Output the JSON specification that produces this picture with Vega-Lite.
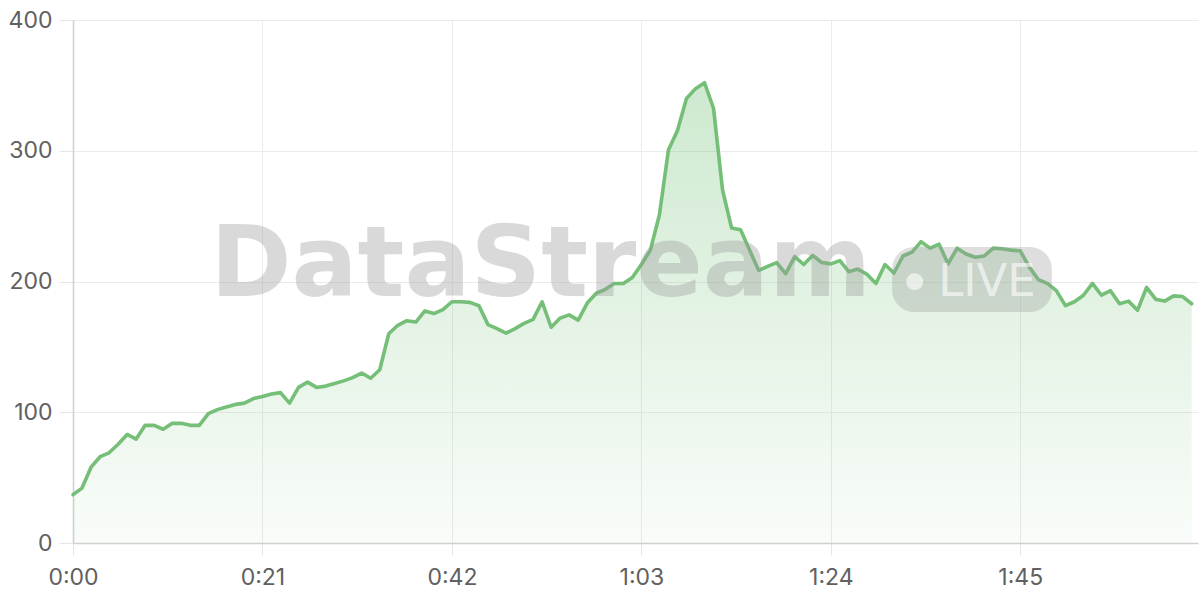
{
  "$schema": "https://vega.github.io/schema/vega-lite/v6.json",
  "width": 1125,
  "height": 523,
  "autosize": {"type": "none"},
  "padding": {"left": 73, "top": 20, "right": 2, "bottom": 57},
  "background": "#ffffff",
  "config": {
    "view": {"stroke": null},
    "axis": {
      "labelFont": "Inter",
      "labelFontSize": 23,
      "labelColor": "#606060",
      "labelFlush": false,
      "gridColor": "#ebebeb",
      "gridWidth": 1,
      "tickColor": "#e6e6e6",
      "tickWidth": 1,
      "domainColor": "#d0d0d0",
      "domainWidth": 1.5
    }
  },
  "datasets": {
    "series": [
      {"t": 0, "v": 37}, {"t": 1, "v": 42}, {"t": 2, "v": 58}, {"t": 3, "v": 66}, {"t": 4, "v": 69},
      {"t": 5, "v": 75.5}, {"t": 6, "v": 83}, {"t": 7, "v": 79.5}, {"t": 8, "v": 90}, {"t": 9, "v": 90},
      {"t": 10, "v": 87}, {"t": 11, "v": 91.5}, {"t": 12, "v": 91.5}, {"t": 13, "v": 90}, {"t": 14, "v": 90},
      {"t": 15, "v": 99}, {"t": 16, "v": 102}, {"t": 17, "v": 104}, {"t": 18, "v": 106}, {"t": 19, "v": 107},
      {"t": 20, "v": 110.5}, {"t": 21, "v": 112}, {"t": 22, "v": 114}, {"t": 23, "v": 115}, {"t": 24, "v": 107},
      {"t": 25, "v": 119}, {"t": 26, "v": 123}, {"t": 27, "v": 119}, {"t": 28, "v": 120}, {"t": 29, "v": 122},
      {"t": 30, "v": 124}, {"t": 31, "v": 126.5}, {"t": 32, "v": 130}, {"t": 33, "v": 126}, {"t": 34, "v": 132.5},
      {"t": 35, "v": 160}, {"t": 36, "v": 166.5}, {"t": 37, "v": 170}, {"t": 38, "v": 169}, {"t": 39, "v": 177.5},
      {"t": 40, "v": 175.5}, {"t": 41, "v": 178.5}, {"t": 42, "v": 184.5}, {"t": 43, "v": 184.5}, {"t": 44, "v": 184},
      {"t": 45, "v": 181.5}, {"t": 46, "v": 167}, {"t": 47, "v": 164}, {"t": 48, "v": 160.5}, {"t": 49, "v": 164},
      {"t": 50, "v": 168}, {"t": 51, "v": 171}, {"t": 52, "v": 184.5}, {"t": 53, "v": 165}, {"t": 54, "v": 172},
      {"t": 55, "v": 174.5}, {"t": 56, "v": 170.5}, {"t": 57, "v": 183.5}, {"t": 58, "v": 191}, {"t": 59, "v": 194},
      {"t": 60, "v": 198.5}, {"t": 61, "v": 198.5}, {"t": 62, "v": 203}, {"t": 63, "v": 213}, {"t": 64, "v": 224},
      {"t": 65, "v": 251}, {"t": 66, "v": 300.5}, {"t": 67, "v": 315.5}, {"t": 68, "v": 340}, {"t": 69, "v": 347.5},
      {"t": 70, "v": 352}, {"t": 71, "v": 332.5}, {"t": 72, "v": 270}, {"t": 73, "v": 241}, {"t": 74, "v": 239.5},
      {"t": 75, "v": 224}, {"t": 76, "v": 208.5}, {"t": 77, "v": 211.5}, {"t": 78, "v": 214.5}, {"t": 79, "v": 206},
      {"t": 80, "v": 219}, {"t": 81, "v": 213}, {"t": 82, "v": 220}, {"t": 83, "v": 214.5}, {"t": 84, "v": 213.5},
      {"t": 85, "v": 216}, {"t": 86, "v": 207.5}, {"t": 87, "v": 209.5}, {"t": 88, "v": 205.5}, {"t": 89, "v": 198.5},
      {"t": 90, "v": 213}, {"t": 91, "v": 206.5}, {"t": 92, "v": 219.5}, {"t": 93, "v": 222.5}, {"t": 94, "v": 230.5},
      {"t": 95, "v": 225.5}, {"t": 96, "v": 228.5}, {"t": 97, "v": 213.5}, {"t": 98, "v": 225.5}, {"t": 99, "v": 221},
      {"t": 100, "v": 218.5}, {"t": 101, "v": 219.5}, {"t": 102, "v": 225.5}, {"t": 103, "v": 225}, {"t": 104, "v": 224},
      {"t": 105, "v": 223.5}, {"t": 106, "v": 211}, {"t": 107, "v": 201.5}, {"t": 108, "v": 198.5}, {"t": 109, "v": 193},
      {"t": 110, "v": 181.5}, {"t": 111, "v": 184.5}, {"t": 112, "v": 189.5}, {"t": 113, "v": 198.5}, {"t": 114, "v": 189.5},
      {"t": 115, "v": 193}, {"t": 116, "v": 183}, {"t": 117, "v": 185}, {"t": 118, "v": 178}, {"t": 119, "v": 195.5},
      {"t": 120, "v": 186.5}, {"t": 121, "v": 185}, {"t": 122, "v": 189}, {"t": 123, "v": 188.5}, {"t": 124, "v": 183}
    ],
    "badge": [{"t0": 90.8, "t1": 108.5, "v0": 176.7, "v1": 226.4}],
    "brand": [{"t": 15.2, "v": 189, "label": "DataStream"}],
    "dot": [{"t": 93.3, "v": 199.8}],
    "live": [{"t": 95.9, "v": 188.9, "label": "LIVE"}]
  },
  "layer": [
    {
      "data": {"name": "series"},
      "mark": {
        "type": "area",
        "interpolate": "linear",
        "color": {
          "gradient": "linear",
          "x1": 0, "y1": 0, "x2": 0, "y2": 1,
          "stops": [
            {"offset": 0, "color": "rgba(102,187,106,0.32)"},
            {"offset": 1, "color": "rgba(102,187,106,0.04)"}
          ]
        }
      },
      "encoding": {
        "x": {
          "field": "t", "type": "quantitative", "title": null,
          "scale": {"domain": [0, 124.7], "nice": false, "zero": false},
          "axis": {
            "values": [0, 21, 42, 63, 84, 105],
            "tickSize": 12,
            "labelPadding": 11,
            "grid": true,
            "labelExpr": "floor(datum.value/60) + ':' + (datum.value % 60 < 10 ? '0' : '') + (datum.value % 60)"
          }
        },
        "y": {
          "field": "v", "type": "quantitative", "title": null,
          "scale": {"domain": [0, 400], "nice": false},
          "axis": {
            "values": [0, 100, 200, 300, 400],
            "tickSize": 14,
            "labelPadding": 7,
            "grid": true
          }
        }
      }
    },
    {
      "data": {"name": "series"},
      "mark": {"type": "line", "interpolate": "linear", "color": "#6aba6e", "strokeWidth": 3.6, "strokeJoin": "round", "strokeCap": "round", "opacity": 0.92},
      "encoding": {
        "x": {"field": "t", "type": "quantitative", "title": null},
        "y": {"field": "v", "type": "quantitative", "title": null}
      }
    },
    {
      "data": {"name": "badge"},
      "mark": {"type": "rect", "color": "#999999", "opacity": 0.32, "cornerRadius": 22},
      "encoding": {
        "x": {"field": "t0", "type": "quantitative", "title": null},
        "x2": {"field": "t1"},
        "y": {"field": "v0", "type": "quantitative", "title": null},
        "y2": {"field": "v1"}
      }
    },
    {
      "data": {"name": "brand"},
      "mark": {"type": "text", "font": "DejaVu Sans", "fontWeight": "bold", "fontSize": 98, "align": "left", "baseline": "alphabetic", "color": "#999999", "opacity": 0.36},
      "encoding": {
        "x": {"field": "t", "type": "quantitative", "title": null},
        "y": {"field": "v", "type": "quantitative", "title": null},
        "text": {"field": "label"}
      }
    },
    {
      "data": {"name": "dot"},
      "mark": {"type": "point", "shape": "circle", "filled": true, "size": 290, "color": "#ffffff", "opacity": 0.6},
      "encoding": {
        "x": {"field": "t", "type": "quantitative", "title": null},
        "y": {"field": "v", "type": "quantitative", "title": null}
      }
    },
    {
      "data": {"name": "live"},
      "mark": {"type": "text", "font": "DejaVu Sans", "fontSize": 45, "align": "left", "baseline": "alphabetic", "color": "#ffffff", "opacity": 0.6},
      "encoding": {
        "x": {"field": "t", "type": "quantitative", "title": null},
        "y": {"field": "v", "type": "quantitative", "title": null},
        "text": {"field": "label"}
      }
    }
  ]
}
